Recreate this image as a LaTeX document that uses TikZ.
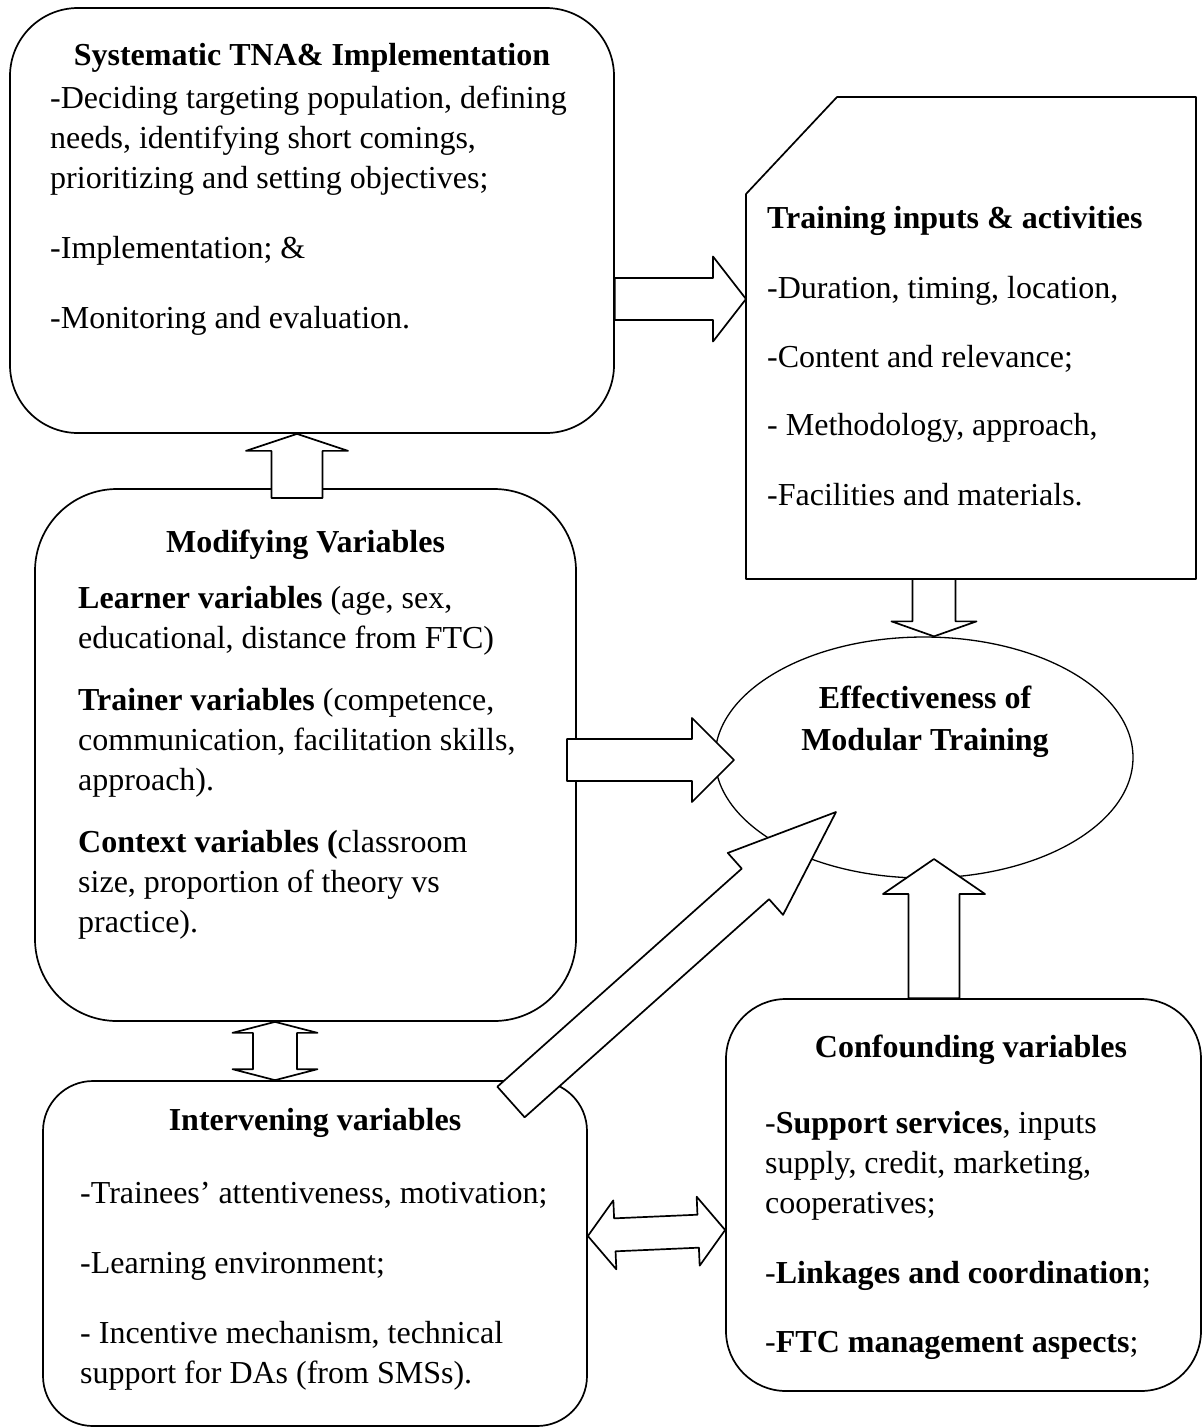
\documentclass[tikz,border=0pt]{standalone}
\usepackage{fontspec}
\setmainfont{Liberation Serif}
\usetikzlibrary{calc,shapes.geometric}
% block arrow: tail, tip, half shaft, half head, head length
\newcommand{\blockarrow}[5]{%
  \draw[barrow] ($(#1)!#3!90:(#2)$) -- ($(#2)!#5!(#1)!#3!-90:(#1)$)
    -- ($(#2)!#5!(#1)!#4!-90:(#1)$) -- (#2)
    -- ($(#2)!#5!(#1)!#4!90:(#1)$) -- ($(#2)!#5!(#1)!#3!90:(#1)$)
    -- ($(#1)!#3!-90:(#2)$) -- cycle;}
% double block arrow: end, end, half shaft, half head, head length
\newcommand{\dblarrow}[5]{%
  \draw[barrow] (#1) -- ($(#1)!#5!(#2)!#4!90:(#2)$) -- ($(#1)!#5!(#2)!#3!90:(#2)$)
    -- ($(#2)!#5!(#1)!#3!-90:(#1)$) -- ($(#2)!#5!(#1)!#4!-90:(#1)$) -- (#2)
    -- ($(#2)!#5!(#1)!#4!90:(#1)$) -- ($(#2)!#5!(#1)!#3!90:(#1)$)
    -- ($(#1)!#5!(#2)!#3!-90:(#2)$) -- ($(#1)!#5!(#2)!#4!-90:(#2)$) -- cycle;}
\begin{document}
\begin{tikzpicture}[x=1pt,y=-1pt,line join=round,line cap=round,
	box/.style={draw,line width=1.7pt},
	barrow/.style={draw,fill=white,line width=1.7pt},
	txt/.style={inner sep=0pt,anchor=north west,yshift=28pt,align=left,
		font=\fontsize{32}{40}\selectfont},
	ttl/.style={txt,anchor=north,align=center,font=\fontsize{32}{40}\selectfont\bfseries}]
	\useasboundingbox (0,0) rectangle (1203,1428);
	%Systematic TNA
	\node[box,rounded corners=68pt,minimum width=604pt,minimum height=425pt] (tna) at (312,220.5) {};
	\node[ttl] (tnaT) at (312,65) {\strut Systematic TNA\& Implementation};
	\node[txt] (tnaA) at (50,108) {\strut-Deciding targeting population, defining\\needs, identifying short comings,\\prioritizing and setting objectives;};
	\node[txt] (tnaB) at (50,258) {\strut-Implementation; \&};
	\node[txt] (tnaC) at (50,328) {\strut-Monitoring and evaluation.};
	%Training inputs
	\path (837,97) coordinate (I1) (1196,97) coordinate (I2)
	(1196,579) coordinate (I3) (746,579) coordinate (I4)
	(746,194) coordinate (I5);
	\draw[box] (I1)--(I2)--(I3)--(I4)--(I5)--cycle;
	\node[txt,font=\fontsize{32}{40}\selectfont\bfseries] (inT) at (767,228) {\strut Training inputs \& activities};
	\node[txt] (inA) at (767,298) {\strut-Duration, timing, location,};
	\node[txt] (inB) at (767,367) {\strut-Content and relevance;};
	\node[txt] (inC) at (767,435) {\strut- Methodology, approach,};
	\node[txt] (inD) at (767,505) {\strut-Facilities and materials.};
	%Modifying variables
	\node[box,rounded corners=82pt,minimum width=541pt,minimum height=532pt] (mod) at (305.5,755) {};
	\node[ttl] (modT) at (305.5,552) {\strut Modifying Variables};
	\node[txt] (modA) at (78,608) {\strut\textbf{Learner variables} (age, sex,\\educational, distance from FTC)};
	\node[txt] (modB) at (78,710) {\strut\textbf{Trainer variables} (competence,\\communication, facilitation skills,\\approach).};
	\node[txt] (modC) at (78,852) {\strut\textbf{Context variables (}classroom\\size, proportion of theory vs\\practice).};
	%Effectiveness
	\node[draw,ellipse,line width=1.3pt,minimum width=418pt,minimum height=241pt] (eff) at (924,757.5) {};
	\node[ttl] (effT) at (925,708) {\strut Effectiveness of\\[2pt]Modular Training};
	%Intervening variables
	\node[box,rounded corners=50pt,minimum width=544pt,minimum height=345pt] (int) at (315,1253.5) {};
	\node[ttl] (intT) at (315,1130) {\strut Intervening variables};
	\node[txt] (intA) at (80,1203) {\strut-Trainees' attentiveness, motivation;};
	\node[txt] (intB) at (80,1273) {\strut-Learning environment;};
	\node[txt] (intC) at (80,1343) {\strut- Incentive mechanism, technical\\support for DAs (from SMSs).};
	%Confounding variables
	\node[box,rounded corners=60pt,minimum width=475pt,minimum height=392pt] (con) at (963.5,1195) {};
	\node[ttl] (conT) at (971,1057) {\strut Confounding variables};
	\node[txt] (conA) at (765,1133) {\strut-\textbf{Support services}, inputs\\supply, credit, marketing,\\cooperatives;};
	\node[txt] (conB) at (765,1283) {\strut-\textbf{Linkages and coordination};};
	\node[txt] (conC) at (765,1352) {\strut-\textbf{FTC management aspects};};
	%Block arrows
	\path (tna.east |- 0,299) coordinate (a1t) (I5 |- a1t) coordinate (a1h)
	(297,498) coordinate (a2t) (tna.south -| a2t) coordinate (a2h)
	(567,760) coordinate (a3t) (734,760) coordinate (a3h)
	(511,1102) coordinate (a4t) (836,812) coordinate (a4h)
	(I4 -| 934,0) coordinate (a5t) (eff.north -| a5t) coordinate (a5h)
	(con.north -| 934,0) coordinate (a6t) (934,859) coordinate (a6h)
	(mod.south -| 275,0) coordinate (d1a) (int.north -| d1a) coordinate (d1b)
	(int.east |- 0,1236) coordinate (d2a) (con.west |- 0,1230) coordinate (d2b);
	\blockarrow{a1t}{a1h}{21pt}{42.5pt}{33pt}
	\blockarrow{a2t}{a2h}{25.5pt}{51pt}{17pt}
	\blockarrow{a3t}{a3h}{21pt}{42pt}{42pt}
	\blockarrow{a4t}{a4h}{20.5pt}{41.5pt}{108pt}
	\blockarrow{a5t}{a5h}{21.5pt}{42.5pt}{15pt}
	\blockarrow{a6t}{a6h}{25.5pt}{51pt}{35pt}
	\dblarrow{d1a}{d1b}{22pt}{42.5pt}{11pt}
	\dblarrow{d2a}{d2b}{16.5pt}{34.5pt}{27pt}
\end{tikzpicture}
\end{document}
